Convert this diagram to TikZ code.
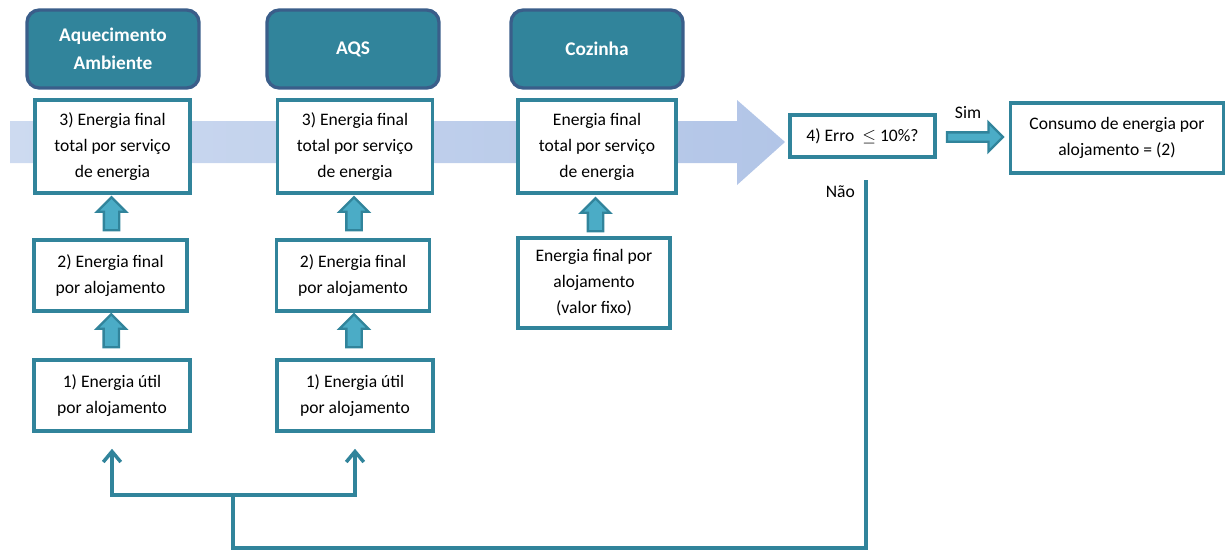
\documentclass[tikz,border=0pt]{standalone}
\usepackage{fontspec}
\setmainfont{Carlito}
\usetikzlibrary{shapes.arrows,arrows.meta,calc}
\definecolor{azulpet}{RGB}{49,132,155}
\definecolor{azulborda}{RGB}{58,94,138}
\definecolor{azulseta}{RGB}{75,172,198}
\definecolor{azulclaro}{RGB}{178,197,231}
\definecolor{azulfraco}{RGB}{205,218,240}
\begin{document}
\begin{tikzpicture}[x=0.02cm, y=-0.02cm,
  cab/.style={rectangle, rounded corners=7pt, draw=azulborda, fill=azulpet, line width=1.9pt, text=white, font=\fontsize{11}{16}\selectfont\bfseries, align=center, minimum width=3.44cm, minimum height=1.56cm},
  caixa/.style={rectangle, draw=azulpet, fill=white, line width=2pt, font=\fontsize{10}{14.8}\selectfont, align=center, inner sep=0pt},
  setabloco/.style={single arrow, draw=azulpet, fill=azulseta, line width=1.3pt, inner xsep=0pt, inner ysep=0.13cm, single arrow head extend=0.14cm, minimum height=0.66cm},
  ligacao/.style={draw=azulpet, line width=2pt},
  rotulo/.style={font=\fontsize{10}{12}\selectfont}
]
\useasboundingbox (0,0) rectangle (1227,552);
% Seta de fundo
\shade [left color=azulfraco, right color=azulclaro] (10,121) -- (737,121) -- (737,100) -- (785,142) -- (737,185) -- (737,163) -- (10,163) -- cycle;
% Cabecalhos
\node [cab] (cabA) at (113,49) {Aquecimento\\Ambiente};
\node [cab] (cabB) at (353,49) {AQS};
\node [cab] (cabC) at (597,49) {Cozinha};
% Caixas
\node [caixa, minimum width=3.1cm, minimum height=1.86cm] (n3a) at (112.5,146.5) {3) Energia final\\total por serviço\\de energia};
\node [caixa, minimum width=3.1cm, minimum height=1.86cm] (n3b) at (355,146.5) {3) Energia final\\total por serviço\\de energia};
\node [caixa, minimum width=3.16cm, minimum height=1.86cm] (n3c) at (597,146.5) {Energia final\\total por serviço\\de energia};
\node [caixa, minimum width=3.06cm, minimum height=1.42cm] (n2a) at (110.5,275.5) {2) Energia final\\por alojamento};
\node [caixa, minimum width=3.06cm, minimum height=1.42cm] (n2b) at (353,275.5) {2) Energia final\\por alojamento};
\node [caixa, minimum width=3.04cm, minimum height=1.8cm] (n2c) at (594,283) {Energia final por\\alojamento\\(valor fixo)};
\node [caixa, minimum width=3.12cm, minimum height=1.42cm] (n1a) at (112,395.5) {1) Energia útil\\por alojamento};
\node [caixa, minimum width=3.12cm, minimum height=1.42cm] (n1b) at (355,395.5) {1) Energia útil\\por alojamento};
\node [caixa, minimum width=2.9cm, minimum height=0.84cm] (erro) at (862.5,136) {4) Erro~ $\le$ 10\%?};
\node [caixa, minimum width=4.26cm, minimum height=1.4cm] (consumo) at (1117,138) {Consumo de energia por\\alojamento = (2)};
% Setas entre caixas
\node [setabloco, rotate=90] (s2a) at ($(n2a.north)!0.5!(n3a.south)+(0,1)$) {};
\node [setabloco, rotate=90] (s1a) at ($(n1a.north)!0.5!(n2a.south)+(0,-1)$) {};
\node [setabloco, rotate=90] (s2b) at ($(n2b.north)!0.5!(n3b.south)+(0,1)$) {};
\node [setabloco, rotate=90] (s1b) at ($(n1b.north)!0.5!(n2b.south)+(0,-1)$) {};
\node [setabloco, rotate=90] (s2c) at ($(n2c.north)!0.5!(n3c.south)+(0,3)$) {};
\node [setabloco, inner ysep=0.07cm, single arrow head extend=0.2cm, minimum height=1.12cm] (sim) at ($(erro.east)!0.5!(consumo.west)$) {};
\node [rotulo] (simtxt) at (968,113) {Sim};
% Retorno
\coordinate (naoIni) at (866,180);
\coordinate (fundo) at (233,548);
\coordinate (junc) at (233,495);
\node [rotulo, anchor=east] (naotxt) at (861,192) {Não};
\path [ligacao] (naoIni) |- (fundo) -- (junc);
\path [ligacao, -{Straight Barb[length=6pt,width=10pt]}] (junc) -| ($(n1a.south)+(0,16)$);
\path [ligacao, -{Straight Barb[length=6pt,width=10pt]}] (junc) -| ($(n1b.south)+(0,16)$);
\end{tikzpicture}
\end{document}
